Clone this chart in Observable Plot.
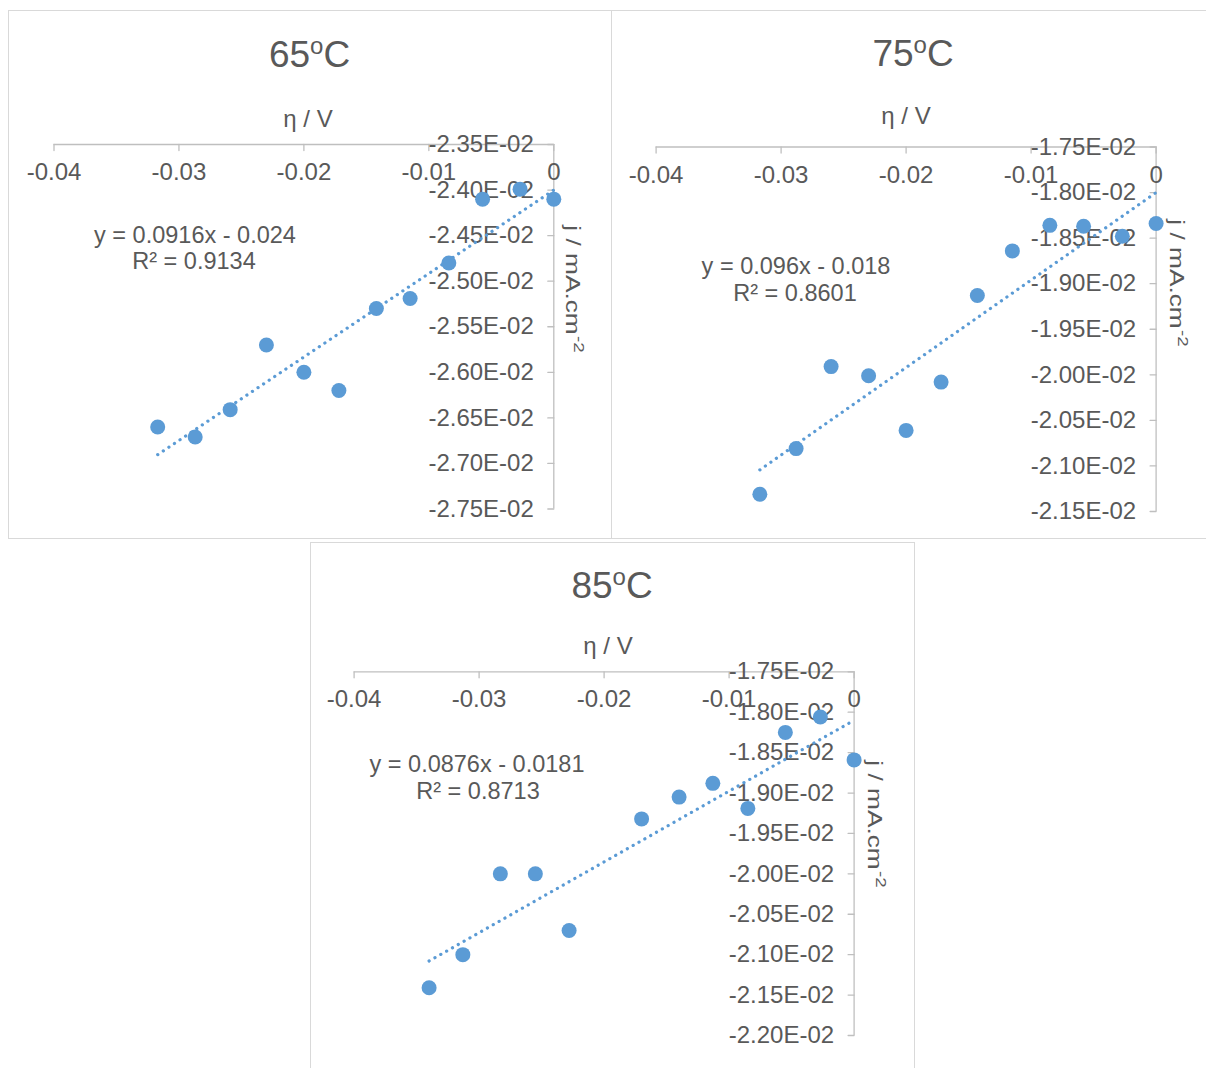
<!DOCTYPE html>
<html>
<head>
<meta charset="utf-8">
<script src="https://cdn.jsdelivr.net/npm/d3@7"></script>
<script src="https://cdn.jsdelivr.net/npm/@observablehq/plot@0.6"></script>
<style>
  html, body { margin: 0; padding: 0; background: #ffffff; }
  #root { position: relative; width: 1206px; height: 1068px; overflow: hidden; background: #ffffff; }
  .frame { position: absolute; box-sizing: border-box; border: 1px solid #d9d9d9; }
</style>
</head>
<body>
<div id="root"></div>
<script>
// ---------- data ----------
const xTicks = [-0.04, -0.03, -0.02, -0.01, 0];
const xTickLabels = ["-0.04", "-0.03", "-0.02", "-0.01", "0"];

const yTicks65 = [-0.0235, -0.024, -0.0245, -0.025, -0.0255, -0.026, -0.0265, -0.027, -0.0275];
const yTickLabels65 = ["-2.35E-02", "-2.40E-02", "-2.45E-02", "-2.50E-02", "-2.55E-02", "-2.60E-02", "-2.65E-02", "-2.70E-02", "-2.75E-02"];
const yTicks75 = [-0.0175, -0.018, -0.0185, -0.019, -0.0195, -0.02, -0.0205, -0.021, -0.0215];
const yTickLabels75 = ["-1.75E-02", "-1.80E-02", "-1.85E-02", "-1.90E-02", "-1.95E-02", "-2.00E-02", "-2.05E-02", "-2.10E-02", "-2.15E-02"];
const yTicks85 = [-0.0175, -0.018, -0.0185, -0.019, -0.0195, -0.02, -0.0205, -0.021, -0.0215, -0.022];
const yTickLabels85 = ["-1.75E-02", "-1.80E-02", "-1.85E-02", "-1.90E-02", "-1.95E-02", "-2.00E-02", "-2.05E-02", "-2.10E-02", "-2.15E-02", "-2.20E-02"];

const eta65 = [-0.0317, -0.0287, -0.0259, -0.0230, -0.0200, -0.0172, -0.0142, -0.0115, -0.0084, -0.0057, -0.0027, 0];
const j65   = [-0.02660, -0.02671, -0.02641, -0.02570, -0.02600, -0.02620, -0.02530, -0.02519, -0.02480, -0.02410, -0.02399, -0.02410];
const eta75 = [-0.0317, -0.0288, -0.0260, -0.0230, -0.0200, -0.0172, -0.0143, -0.0115, -0.0085, -0.0058, -0.0027, 0];
const j75   = [-0.02131, -0.02081, -0.01991, -0.02001, -0.02061, -0.02008, -0.01913, -0.01864, -0.01836, -0.01837, -0.01848, -0.01834];
const eta85 = [-0.0340, -0.0313, -0.0283, -0.0255, -0.0228, -0.0170, -0.0140, -0.0113, -0.0085, -0.0055, -0.0027, 0];
const j85   = [-0.02141, -0.02100, -0.02000, -0.02000, -0.02070, -0.01932, -0.01905, -0.01888, -0.01919, -0.01825, -0.01806, -0.01859];

const titles = ["65", "75", "85"];
const slopes = [0.0916, 0.096, 0.0876];
const intercepts = [-0.024, -0.018, -0.0181];
const equations = ["y = 0.0916x - 0.024", "y = 0.096x - 0.018", "y = 0.0876x - 0.0181"];
const r2Labels = ["R² = 0.9134", "R² = 0.8601", "R² = 0.8713"];
const xLabel = "η / V";
const yLabelMain = "j / mA.cm";
const yLabelSup = "-2";

// ---------- layout ----------
const FONT = "'Liberation Sans', Arial, Helvetica, sans-serif";
const textColor = "#595959";
const axisColor = "#bfbfbf";
const blue = "#5b9bd5";

const layouts = [
  {box: {left: 8, top: 10, width: 604, height: 529}, plot: {x0: 53.5, x1: 553.3, y0: 144, y1: 508.5},
   title: [309.5, 66.7], eta: [308, 126.6], jlab: [566, 289], eq: [195, 243], r2: [194, 269]},
  {box: {left: 611, top: 10, width: 600, height: 529}, plot: {x0: 655.6, x1: 1155.6, y0: 146.5, y1: 511},
   title: [913, 65.5], eta: [906, 123.6], jlab: [1170, 283], eq: [796, 274], r2: [795, 301]},
  {box: {left: 310, top: 542, width: 605, height: 540}, plot: {x0: 353.6, x1: 853.6, y0: 671.3, y1: 1035},
   title: [612, 598], eta: [608, 653.6], jlab: [868, 824], eq: [477, 772], r2: [478, 799]}
];

const series = [
  {eta: eta65, j: j65, yTicks: yTicks65, yLabels: yTickLabels65},
  {eta: eta75, j: j75, yTicks: yTicks75, yLabels: yTickLabels75},
  {eta: eta85, j: j85, yTicks: yTicks85, yLabels: yTickLabels85}
];

const tickShape = {draw(context, l) { context.moveTo(0, 0); context.lineTo(0, -l); }};

const root = document.getElementById("root");

series.forEach((s, k) => {
  const L = layouts[k];
  const b = L.box, p = L.plot;
  const points = s.eta.map((e, i) => ({eta: e, j: s.j[i]}));
  const ext = d3.extent(s.eta);
  const trend = ext.map(x => ({x, y: slopes[k] * x + intercepts[k]}));

  const svg = Plot.plot({
    width: b.width,
    height: b.height,
    marginLeft: p.x0 - b.left,
    marginRight: b.left + b.width - p.x1,
    marginTop: p.y0 - b.top,
    marginBottom: b.top + b.height - p.y1,
    x: {domain: [d3.min(xTicks), d3.max(xTicks)], axis: null},
    y: {domain: d3.extent(s.yTicks), axis: null},
    style: {fontFamily: FONT, fontSize: "24px", color: textColor, background: "none", overflow: "visible"},
    marks: [
      Plot.ruleY([d3.max(s.yTicks)], {stroke: axisColor, strokeWidth: 1.3}),
      Plot.ruleX([d3.max(xTicks)], {stroke: axisColor, strokeWidth: 1.3}),
      Plot.vector(xTicks, {x: d => d, frameAnchor: "top", length: 6, rotate: 180, anchor: "start", shape: tickShape, stroke: axisColor, strokeWidth: 1.3}),
      Plot.vector(s.yTicks, {y: d => d, frameAnchor: "right", length: 6, rotate: -90, anchor: "start", shape: tickShape, stroke: axisColor, strokeWidth: 1.3}),
      Plot.text(xTicks, {x: d => d, frameAnchor: "top", lineAnchor: "middle", dy: 28, text: (d, i) => xTickLabels[i], fill: textColor}),
      Plot.text(s.yTicks, {y: d => d, frameAnchor: "right", lineAnchor: "middle", dx: -20, textAnchor: "end", text: (d, i) => s.yLabels[i], fill: textColor}),
      Plot.line(trend, {x: "x", y: "y", stroke: blue, strokeWidth: 3.2, strokeLinecap: "round", strokeDasharray: "0.1 6.6"}),
      Plot.dot(points, {x: "eta", y: "j", r: 7.5, fill: blue})
    ]
  });

  const frame = document.createElement("div");
  frame.className = "frame";
  Object.assign(frame.style, {left: b.left + "px", top: b.top + "px", width: b.width + "px", height: b.height + "px"});
  root.appendChild(frame);

  Object.assign(svg.style, {position: "absolute", left: b.left + "px", top: b.top + "px", maxWidth: "none", background: "none"});
  root.appendChild(svg);

  const g = d3.select(svg).append("g").attr("font-family", FONT).attr("fill", textColor);
  const X = v => v - b.left, Y = v => v - b.top;

  // title
  const t = g.append("text").attr("x", X(L.title[0])).attr("y", Y(L.title[1]))
    .attr("text-anchor", "middle").attr("font-size", 37);
  t.append("tspan").text(titles[k]);
  t.append("tspan").attr("font-size", 24).attr("dy", -13).text("o");
  t.append("tspan").attr("font-size", 37).attr("dy", 13).text("C");

  // x axis title
  g.append("text").attr("x", X(L.eta[0])).attr("y", Y(L.eta[1]))
    .attr("text-anchor", "middle").attr("font-size", 24).text(xLabel);

  // y axis title (rotated, baseline on the left)
  const yl = g.append("text")
    .attr("transform", `translate(${X(L.jlab[0])},${Y(L.jlab[1])}) rotate(90) scale(1.25,1)`)
    .attr("text-anchor", "middle").attr("font-size", 21);
  yl.append("tspan").text(yLabelMain);
  yl.append("tspan").attr("font-size", 15).attr("dy", -8).attr("dx", 1).text(yLabelSup);

  // trendline equation
  g.append("text").attr("x", X(L.eq[0])).attr("y", Y(L.eq[1]))
    .attr("text-anchor", "middle").attr("font-size", 23.5).text(equations[k]);
  g.append("text").attr("x", X(L.r2[0])).attr("y", Y(L.r2[1]))
    .attr("text-anchor", "middle").attr("font-size", 23.5).text(r2Labels[k]);
});
</script>
</body>
</html>
